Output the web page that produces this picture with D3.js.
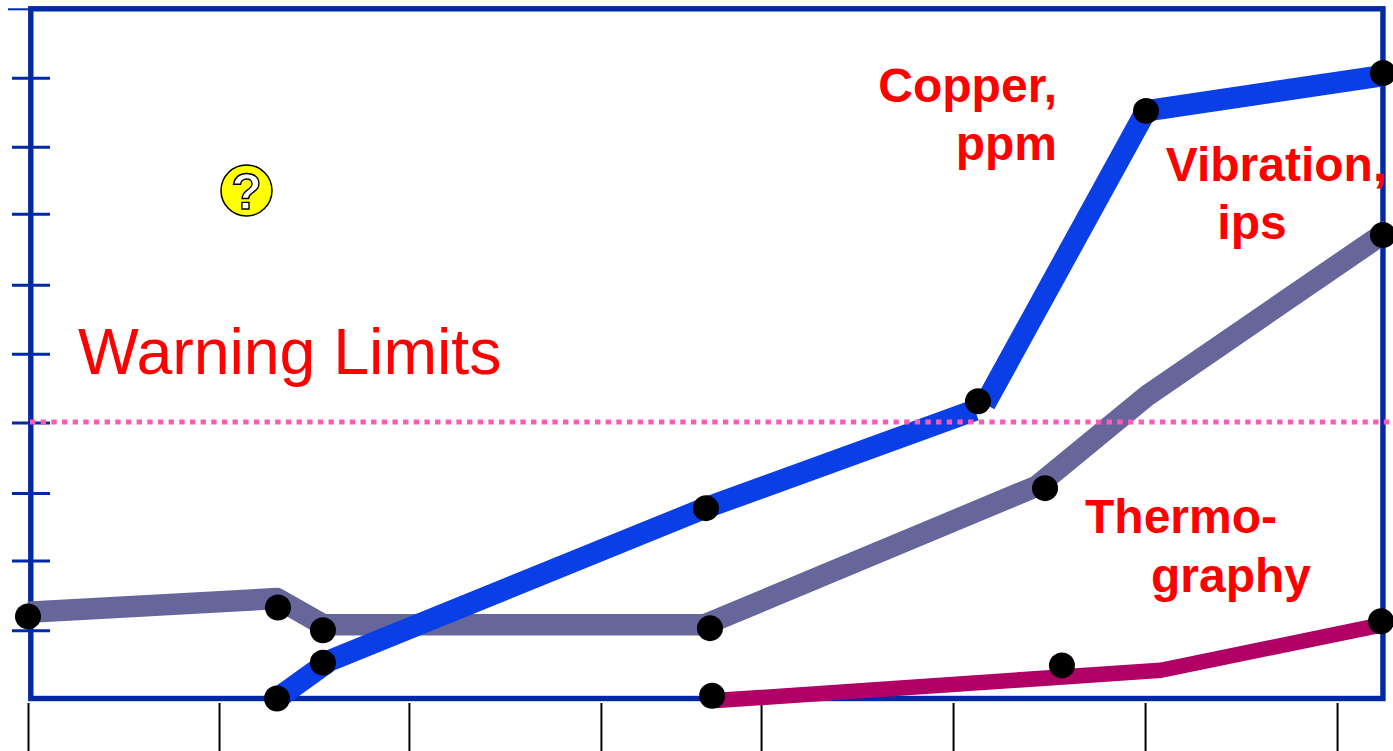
<!DOCTYPE html>
<html>
<head>
<meta charset="utf-8">
<script src="https://cdn.jsdelivr.net/npm/d3@7"></script>
<style>
  html, body { margin: 0; padding: 0; background: #fff; overflow: hidden; }
  text { font-family: "Liberation Sans", Arial, sans-serif; }
</style>
</head>
<body>
<div id="chart"></div>
<script>
// Chart layout
const width = 1393;
const height = 751;

// Axis ticks (no labels in the original)
const xTicks = [0, 0.995, 1.984, 2.984, 3.818, 4.818, 5.818, 6.818];
const yTicks = [0.99, 2, 2.98, 4, 5, 6, 7.03, 8, 9, 10];
const warningLimit = 4.01;

// Series: line vertices
const vibrationX = [0, 1.297, 1.536, 3.526, 5.255, 5.833, 7.09];
const vibrationY = [1.25, 1.45, 1.07, 1.07, 3.08, 4.40, 6.8];
const copperLowX = [1.297, 1.573, 3.526, 4.932];
const copperLowY = [0, 0.55, 2.76, 4.18];
const copperHighX = [4.984, 5.823, 7.057];
const copperHighY = [4.27, 8.52, 9.03];
const thermoX = [3.583, 5.901, 7.057];
const thermoY = [-0.03, 0.41, 1.07];

// Series: measured points, they sit a little off the lines
const vibrationPointX = [0, 1.302, 1.536, 3.552, 5.297, 7.057];
const vibrationPointY = [1.19, 1.32, 0.99, 1.02, 3.05, 6.72];
const copperPointX = [1.297, 1.536, 3.531, 4.948, 5.823, 7.057];
const copperPointY = [0, 0.52, 2.76, 4.31, 8.52, 9.07];
const thermoPointX = [3.563, 5.385, 7.047];
const thermoPointY = [0.04, 0.48, 1.12];

const zip = (xs, ys) => xs.map((v, i) => [v, ys[i]]);

const svg = d3.select("#chart")
  .append("svg")
  .attr("width", width)
  .attr("height", height)
  .style("display", "block");

// Scales
const x = d3.scaleLinear().domain([0, 7]).range([28, 1372]);
const y = d3.scaleLinear().domain([0, 10]).range([698.5, 8.8]);

const frameColor = "#0029a3";

// Frame
svg.append("rect")
  .attr("x", 30.8)
  .attr("y", y(10))
  .attr("width", x(7.057) - 30.8)
  .attr("height", y(0) - y(10))
  .attr("fill", "none")
  .attr("stroke", frameColor)
  .attr("stroke-width", 5.4);

// Y ticks cross the left edge of the frame
const yAxis = svg.append("g")
  .attr("transform", "translate(50,0)")
  .call(d3.axisLeft(y).tickValues(yTicks).tickSize(38).tickFormat(""));
yAxis.select(".domain").remove();
yAxis.selectAll("line")
  .attr("stroke", frameColor)
  .attr("stroke-width", 3);
yAxis.selectAll(".tick")
  .filter(d => d === 10)
  .select("line")
  .attr("x1", -20)
  .attr("x2", -42)
  .attr("stroke-width", 2);

// X ticks hang below the frame
const xAxis = svg.append("g")
  .attr("transform", "translate(0,703)")
  .call(d3.axisBottom(x).tickValues(xTicks).tickSize(48).tickFormat(""));
xAxis.select(".domain").remove();
xAxis.selectAll("line")
  .attr("stroke", "#000")
  .attr("stroke-width", 2);

// Lines
const line = d3.line().x(d => x(d[0])).y(d => y(d[1]));

const lines = [
  { pts: zip(vibrationX, vibrationY), color: "#66669a", w: 21.5 },
  { pts: zip(copperLowX, copperLowY), color: "#0a3fe8", w: 21.5 },
  { pts: zip(copperHighX, copperHighY), color: "#0a3fe8", w: 21.5 },
  { pts: zip(thermoX, thermoY), color: "#b00066", w: 15.5 }
];

svg.selectAll(".series")
  .data(lines)
  .join("path")
  .attr("class", "series")
  .attr("d", d => line(d.pts))
  .attr("fill", "none")
  .attr("stroke", d => d.color)
  .attr("stroke-width", d => d.w)
  .attr("stroke-linejoin", "round");

// Warning limit
svg.append("line")
  .attr("x1", 30)
  .attr("x2", 1390)
  .attr("y1", y(warningLimit))
  .attr("y2", y(warningLimit))
  .attr("stroke", "#ff5ab8")
  .attr("stroke-width", 5)
  .attr("stroke-dasharray", "5.33 5.33");

// Points
const points = [
  ...zip(vibrationPointX, vibrationPointY),
  ...zip(copperPointX, copperPointY),
  ...zip(thermoPointX, thermoPointY)
];

svg.selectAll(".point")
  .data(points)
  .join("circle")
  .attr("class", "point")
  .attr("cx", d => x(d[0]))
  .attr("cy", d => y(d[1]))
  .attr("r", 13)
  .attr("fill", "#000");

// Labels
const labels = [
  { text: "Warning Limits", x: 78, y: 374, size: 64.4, weight: "normal", anchor: "start" },
  { text: "Copper,", x: 1057, y: 102, size: 48, weight: "bold", anchor: "end" },
  { text: "ppm", x: 1057, y: 160, size: 48, weight: "bold", anchor: "end" },
  { text: "Vibration,", x: 1276, y: 181, size: 48, weight: "bold", anchor: "middle" },
  { text: "ips", x: 1252, y: 239, size: 48, weight: "bold", anchor: "middle" },
  { text: "Thermo-", x: 1181, y: 533, size: 48, weight: "bold", anchor: "middle" },
  { text: "graphy", x: 1231, y: 592, size: 48, weight: "bold", anchor: "middle" }
];

svg.selectAll(".label")
  .data(labels)
  .join("text")
  .attr("class", "label")
  .attr("x", d => d.x)
  .attr("y", d => d.y)
  .attr("text-anchor", d => d.anchor)
  .attr("fill", "#ff0000")
  .style("font-size", d => d.size + "px")
  .style("font-weight", d => d.weight)
  .text(d => d.text);

// Question mark badge
const badge = svg.append("g").attr("transform", "translate(246.5,190.5)");
badge.append("circle")
  .attr("r", 25.5)
  .attr("fill", "#ffff00")
  .attr("stroke", "#000")
  .attr("stroke-width", 1.5);
badge.append("text")
  .attr("y", 18.5)
  .attr("text-anchor", "middle")
  .attr("fill", "#fff")
  .attr("stroke", "#000")
  .attr("stroke-width", 1.4)
  .style("font-size", "50px")
  .style("font-weight", "bold")
  .text("?");
</script>
</body>
</html>
